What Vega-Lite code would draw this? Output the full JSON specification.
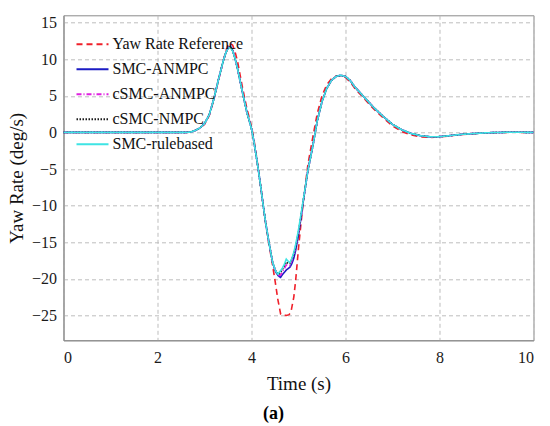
{
  "$schema": "https://vega.github.io/schema/vega-lite/v6.json",
  "width": 470,
  "height": 325,
  "autosize": {"type": "none"},
  "padding": {"left": 63.5, "top": 15.3, "right": 16.5, "bottom": 86},
  "title": {"text": "(a)", "orient": "bottom", "anchor": "middle", "frame": "group", "dx": -25, "offset": 12, "fontSize": 18, "fontWeight": "bold", "font": "Liberation Serif", "color": "#000"},
  "data": {
    "values": [
      {"s": "Yaw Rate Reference", "t": 0, "v": 0}, {"s": "Yaw Rate Reference", "t": 2.5, "v": 0}, {"s": "Yaw Rate Reference", "t": 2.6, "v": 0},
      {"s": "Yaw Rate Reference", "t": 2.7, "v": 0.05}, {"s": "Yaw Rate Reference", "t": 2.8, "v": 0.25}, {"s": "Yaw Rate Reference", "t": 2.9, "v": 0.6},
      {"s": "Yaw Rate Reference", "t": 3.0, "v": 1.1}, {"s": "Yaw Rate Reference", "t": 3.1, "v": 2.3}, {"s": "Yaw Rate Reference", "t": 3.2, "v": 4.5},
      {"s": "Yaw Rate Reference", "t": 3.3, "v": 7.2}, {"s": "Yaw Rate Reference", "t": 3.4, "v": 9.8}, {"s": "Yaw Rate Reference", "t": 3.45, "v": 11.0},
      {"s": "Yaw Rate Reference", "t": 3.5, "v": 11.9}, {"s": "Yaw Rate Reference", "t": 3.55, "v": 12.2}, {"s": "Yaw Rate Reference", "t": 3.6, "v": 11.9},
      {"s": "Yaw Rate Reference", "t": 3.65, "v": 11.0}, {"s": "Yaw Rate Reference", "t": 3.7, "v": 9.8}, {"s": "Yaw Rate Reference", "t": 3.8, "v": 6.4},
      {"s": "Yaw Rate Reference", "t": 3.9, "v": 3.3}, {"s": "Yaw Rate Reference", "t": 4.0, "v": 0.8}, {"s": "Yaw Rate Reference", "t": 4.05, "v": -0.9},
      {"s": "Yaw Rate Reference", "t": 4.1, "v": -3.0}, {"s": "Yaw Rate Reference", "t": 4.15, "v": -5.2}, {"s": "Yaw Rate Reference", "t": 4.2, "v": -7.6},
      {"s": "Yaw Rate Reference", "t": 4.25, "v": -10}, {"s": "Yaw Rate Reference", "t": 4.3, "v": -12.4}, {"s": "Yaw Rate Reference", "t": 4.37, "v": -15.2},
      {"s": "Yaw Rate Reference", "t": 4.45, "v": -18.2}, {"s": "Yaw Rate Reference", "t": 4.5, "v": -20.2}, {"s": "Yaw Rate Reference", "t": 4.56, "v": -22.8},
      {"s": "Yaw Rate Reference", "t": 4.62, "v": -24.8}, {"s": "Yaw Rate Reference", "t": 4.66, "v": -25}, {"s": "Yaw Rate Reference", "t": 4.74, "v": -25},
      {"s": "Yaw Rate Reference", "t": 4.8, "v": -24.9}, {"s": "Yaw Rate Reference", "t": 4.84, "v": -24.5}, {"s": "Yaw Rate Reference", "t": 4.9, "v": -22.5},
      {"s": "Yaw Rate Reference", "t": 4.94, "v": -20.2}, {"s": "Yaw Rate Reference", "t": 5.0, "v": -15.8}, {"s": "Yaw Rate Reference", "t": 5.05, "v": -12.6},
      {"s": "Yaw Rate Reference", "t": 5.1, "v": -9.6}, {"s": "Yaw Rate Reference", "t": 5.2, "v": -4.4}, {"s": "Yaw Rate Reference", "t": 5.3, "v": -0.8},
      {"s": "Yaw Rate Reference", "t": 5.4, "v": 2.6}, {"s": "Yaw Rate Reference", "t": 5.5, "v": 5.0}, {"s": "Yaw Rate Reference", "t": 5.6, "v": 6.5},
      {"s": "Yaw Rate Reference", "t": 5.7, "v": 7.3}, {"s": "Yaw Rate Reference", "t": 5.8, "v": 7.7}, {"s": "Yaw Rate Reference", "t": 5.9, "v": 7.75},
      {"s": "Yaw Rate Reference", "t": 6.0, "v": 7.5}, {"s": "Yaw Rate Reference", "t": 6.1, "v": 6.9}, {"s": "Yaw Rate Reference", "t": 6.2, "v": 6.0},
      {"s": "Yaw Rate Reference", "t": 6.4, "v": 4.6}, {"s": "Yaw Rate Reference", "t": 6.6, "v": 3.2}, {"s": "Yaw Rate Reference", "t": 6.8, "v": 2.0},
      {"s": "Yaw Rate Reference", "t": 7.0, "v": 0.9}, {"s": "Yaw Rate Reference", "t": 7.2, "v": 0.1}, {"s": "Yaw Rate Reference", "t": 7.4, "v": -0.35},
      {"s": "Yaw Rate Reference", "t": 7.6, "v": -0.6}, {"s": "Yaw Rate Reference", "t": 7.8, "v": -0.68}, {"s": "Yaw Rate Reference", "t": 8.0, "v": -0.62},
      {"s": "Yaw Rate Reference", "t": 8.2, "v": -0.48}, {"s": "Yaw Rate Reference", "t": 8.5, "v": -0.28}, {"s": "Yaw Rate Reference", "t": 9.0, "v": -0.07},
      {"s": "Yaw Rate Reference", "t": 9.5, "v": 0.02}, {"s": "Yaw Rate Reference", "t": 10, "v": 0},

      {"s": "SMC-ANMPC", "t": 0, "v": 0}, {"s": "SMC-ANMPC", "t": 2.5, "v": 0}, {"s": "SMC-ANMPC", "t": 2.6, "v": 0},
      {"s": "SMC-ANMPC", "t": 2.7, "v": 0.05}, {"s": "SMC-ANMPC", "t": 2.8, "v": 0.25}, {"s": "SMC-ANMPC", "t": 2.9, "v": 0.6},
      {"s": "SMC-ANMPC", "t": 3.0, "v": 1.2}, {"s": "SMC-ANMPC", "t": 3.1, "v": 2.4}, {"s": "SMC-ANMPC", "t": 3.2, "v": 4.6},
      {"s": "SMC-ANMPC", "t": 3.3, "v": 7.3}, {"s": "SMC-ANMPC", "t": 3.4, "v": 9.8}, {"s": "SMC-ANMPC", "t": 3.45, "v": 10.8},
      {"s": "SMC-ANMPC", "t": 3.5, "v": 11.6}, {"s": "SMC-ANMPC", "t": 3.55, "v": 11.75}, {"s": "SMC-ANMPC", "t": 3.6, "v": 11.2},
      {"s": "SMC-ANMPC", "t": 3.65, "v": 10.1}, {"s": "SMC-ANMPC", "t": 3.7, "v": 8.8}, {"s": "SMC-ANMPC", "t": 3.8, "v": 5.7},
      {"s": "SMC-ANMPC", "t": 3.9, "v": 2.8}, {"s": "SMC-ANMPC", "t": 4.0, "v": 0.5}, {"s": "SMC-ANMPC", "t": 4.05, "v": -1.2},
      {"s": "SMC-ANMPC", "t": 4.1, "v": -3.2}, {"s": "SMC-ANMPC", "t": 4.15, "v": -5.3}, {"s": "SMC-ANMPC", "t": 4.2, "v": -7.6},
      {"s": "SMC-ANMPC", "t": 4.25, "v": -10}, {"s": "SMC-ANMPC", "t": 4.3, "v": -12.3}, {"s": "SMC-ANMPC", "t": 4.37, "v": -15},
      {"s": "SMC-ANMPC", "t": 4.45, "v": -17.8}, {"s": "SMC-ANMPC", "t": 4.5, "v": -18.8}, {"s": "SMC-ANMPC", "t": 4.52, "v": -19.1},
      {"s": "SMC-ANMPC", "t": 4.56, "v": -19.5}, {"s": "SMC-ANMPC", "t": 4.58, "v": -19.65}, {"s": "SMC-ANMPC", "t": 4.62, "v": -19.8},
      {"s": "SMC-ANMPC", "t": 4.66, "v": -19.4}, {"s": "SMC-ANMPC", "t": 4.7, "v": -19.1}, {"s": "SMC-ANMPC", "t": 4.74, "v": -18.8},
      {"s": "SMC-ANMPC", "t": 4.78, "v": -18.6}, {"s": "SMC-ANMPC", "t": 4.82, "v": -18.4}, {"s": "SMC-ANMPC", "t": 4.86, "v": -17.9},
      {"s": "SMC-ANMPC", "t": 4.9, "v": -17.2}, {"s": "SMC-ANMPC", "t": 4.94, "v": -16.1}, {"s": "SMC-ANMPC", "t": 5.0, "v": -14.0},
      {"s": "SMC-ANMPC", "t": 5.05, "v": -11.8}, {"s": "SMC-ANMPC", "t": 5.1, "v": -9.5}, {"s": "SMC-ANMPC", "t": 5.2, "v": -5.2},
      {"s": "SMC-ANMPC", "t": 5.3, "v": -2.0}, {"s": "SMC-ANMPC", "t": 5.4, "v": 1.6}, {"s": "SMC-ANMPC", "t": 5.5, "v": 4.2},
      {"s": "SMC-ANMPC", "t": 5.6, "v": 6.0}, {"s": "SMC-ANMPC", "t": 5.7, "v": 7.1}, {"s": "SMC-ANMPC", "t": 5.8, "v": 7.65},
      {"s": "SMC-ANMPC", "t": 5.9, "v": 7.8}, {"s": "SMC-ANMPC", "t": 6.0, "v": 7.65}, {"s": "SMC-ANMPC", "t": 6.1, "v": 7.1},
      {"s": "SMC-ANMPC", "t": 6.2, "v": 6.2}, {"s": "SMC-ANMPC", "t": 6.4, "v": 4.8}, {"s": "SMC-ANMPC", "t": 6.6, "v": 3.4},
      {"s": "SMC-ANMPC", "t": 6.8, "v": 2.2}, {"s": "SMC-ANMPC", "t": 7.0, "v": 1.1}, {"s": "SMC-ANMPC", "t": 7.2, "v": 0.35},
      {"s": "SMC-ANMPC", "t": 7.4, "v": -0.15}, {"s": "SMC-ANMPC", "t": 7.6, "v": -0.45}, {"s": "SMC-ANMPC", "t": 7.8, "v": -0.6},
      {"s": "SMC-ANMPC", "t": 8.0, "v": -0.58}, {"s": "SMC-ANMPC", "t": 8.2, "v": -0.45}, {"s": "SMC-ANMPC", "t": 8.5, "v": -0.25},
      {"s": "SMC-ANMPC", "t": 9.0, "v": -0.05}, {"s": "SMC-ANMPC", "t": 9.5, "v": 0.03}, {"s": "SMC-ANMPC", "t": 10, "v": 0},

      {"s": "cSMC-ANMPC", "t": 0, "v": 0}, {"s": "cSMC-ANMPC", "t": 2.5, "v": 0}, {"s": "cSMC-ANMPC", "t": 2.6, "v": 0},
      {"s": "cSMC-ANMPC", "t": 2.7, "v": 0.05}, {"s": "cSMC-ANMPC", "t": 2.8, "v": 0.25}, {"s": "cSMC-ANMPC", "t": 2.9, "v": 0.6},
      {"s": "cSMC-ANMPC", "t": 3.0, "v": 1.2}, {"s": "cSMC-ANMPC", "t": 3.1, "v": 2.4}, {"s": "cSMC-ANMPC", "t": 3.2, "v": 4.6},
      {"s": "cSMC-ANMPC", "t": 3.3, "v": 7.3}, {"s": "cSMC-ANMPC", "t": 3.4, "v": 9.8}, {"s": "cSMC-ANMPC", "t": 3.45, "v": 10.8},
      {"s": "cSMC-ANMPC", "t": 3.5, "v": 11.55}, {"s": "cSMC-ANMPC", "t": 3.55, "v": 11.65}, {"s": "cSMC-ANMPC", "t": 3.6, "v": 11.2},
      {"s": "cSMC-ANMPC", "t": 3.65, "v": 10.1}, {"s": "cSMC-ANMPC", "t": 3.7, "v": 8.8}, {"s": "cSMC-ANMPC", "t": 3.8, "v": 5.7},
      {"s": "cSMC-ANMPC", "t": 3.9, "v": 2.8}, {"s": "cSMC-ANMPC", "t": 4.0, "v": 0.5}, {"s": "cSMC-ANMPC", "t": 4.05, "v": -1.2},
      {"s": "cSMC-ANMPC", "t": 4.1, "v": -3.2}, {"s": "cSMC-ANMPC", "t": 4.15, "v": -5.3}, {"s": "cSMC-ANMPC", "t": 4.2, "v": -7.6},
      {"s": "cSMC-ANMPC", "t": 4.25, "v": -10}, {"s": "cSMC-ANMPC", "t": 4.3, "v": -12.3}, {"s": "cSMC-ANMPC", "t": 4.37, "v": -15},
      {"s": "cSMC-ANMPC", "t": 4.45, "v": -17.8}, {"s": "cSMC-ANMPC", "t": 4.5, "v": -18.7}, {"s": "cSMC-ANMPC", "t": 4.52, "v": -19.0},
      {"s": "cSMC-ANMPC", "t": 4.56, "v": -19.4}, {"s": "cSMC-ANMPC", "t": 4.58, "v": -19.55}, {"s": "cSMC-ANMPC", "t": 4.62, "v": -19.5},
      {"s": "cSMC-ANMPC", "t": 4.66, "v": -19.0}, {"s": "cSMC-ANMPC", "t": 4.7, "v": -18.6}, {"s": "cSMC-ANMPC", "t": 4.74, "v": -18.1},
      {"s": "cSMC-ANMPC", "t": 4.78, "v": -18.2}, {"s": "cSMC-ANMPC", "t": 4.82, "v": -18.2}, {"s": "cSMC-ANMPC", "t": 4.86, "v": -17.5},
      {"s": "cSMC-ANMPC", "t": 4.9, "v": -16.7}, {"s": "cSMC-ANMPC", "t": 4.94, "v": -15.6}, {"s": "cSMC-ANMPC", "t": 5.0, "v": -13.7},
      {"s": "cSMC-ANMPC", "t": 5.05, "v": -11.6}, {"s": "cSMC-ANMPC", "t": 5.1, "v": -9.4}, {"s": "cSMC-ANMPC", "t": 5.2, "v": -5.2},
      {"s": "cSMC-ANMPC", "t": 5.3, "v": -2.0}, {"s": "cSMC-ANMPC", "t": 5.4, "v": 1.6}, {"s": "cSMC-ANMPC", "t": 5.5, "v": 4.2},
      {"s": "cSMC-ANMPC", "t": 5.6, "v": 6.0}, {"s": "cSMC-ANMPC", "t": 5.7, "v": 7.1}, {"s": "cSMC-ANMPC", "t": 5.8, "v": 7.65},
      {"s": "cSMC-ANMPC", "t": 5.9, "v": 7.8}, {"s": "cSMC-ANMPC", "t": 6.0, "v": 7.65}, {"s": "cSMC-ANMPC", "t": 6.1, "v": 7.1},
      {"s": "cSMC-ANMPC", "t": 6.2, "v": 6.2}, {"s": "cSMC-ANMPC", "t": 6.4, "v": 4.8}, {"s": "cSMC-ANMPC", "t": 6.6, "v": 3.4},
      {"s": "cSMC-ANMPC", "t": 6.8, "v": 2.2}, {"s": "cSMC-ANMPC", "t": 7.0, "v": 1.1}, {"s": "cSMC-ANMPC", "t": 7.2, "v": 0.35},
      {"s": "cSMC-ANMPC", "t": 7.4, "v": -0.15}, {"s": "cSMC-ANMPC", "t": 7.6, "v": -0.45}, {"s": "cSMC-ANMPC", "t": 7.8, "v": -0.6},
      {"s": "cSMC-ANMPC", "t": 8.0, "v": -0.58}, {"s": "cSMC-ANMPC", "t": 8.2, "v": -0.45}, {"s": "cSMC-ANMPC", "t": 8.5, "v": -0.25},
      {"s": "cSMC-ANMPC", "t": 9.0, "v": -0.05}, {"s": "cSMC-ANMPC", "t": 9.5, "v": 0.03}, {"s": "cSMC-ANMPC", "t": 10, "v": 0},

      {"s": "cSMC-NMPC", "t": 0, "v": 0}, {"s": "cSMC-NMPC", "t": 2.5, "v": 0}, {"s": "cSMC-NMPC", "t": 2.6, "v": 0},
      {"s": "cSMC-NMPC", "t": 2.7, "v": 0.05}, {"s": "cSMC-NMPC", "t": 2.8, "v": 0.25}, {"s": "cSMC-NMPC", "t": 2.9, "v": 0.6},
      {"s": "cSMC-NMPC", "t": 3.0, "v": 1.2}, {"s": "cSMC-NMPC", "t": 3.1, "v": 2.4}, {"s": "cSMC-NMPC", "t": 3.2, "v": 4.6},
      {"s": "cSMC-NMPC", "t": 3.3, "v": 7.3}, {"s": "cSMC-NMPC", "t": 3.4, "v": 9.8}, {"s": "cSMC-NMPC", "t": 3.45, "v": 10.8},
      {"s": "cSMC-NMPC", "t": 3.5, "v": 11.5}, {"s": "cSMC-NMPC", "t": 3.55, "v": 11.6}, {"s": "cSMC-NMPC", "t": 3.6, "v": 11.15},
      {"s": "cSMC-NMPC", "t": 3.65, "v": 10.1}, {"s": "cSMC-NMPC", "t": 3.7, "v": 8.8}, {"s": "cSMC-NMPC", "t": 3.8, "v": 5.7},
      {"s": "cSMC-NMPC", "t": 3.9, "v": 2.8}, {"s": "cSMC-NMPC", "t": 4.0, "v": 0.5}, {"s": "cSMC-NMPC", "t": 4.05, "v": -1.2},
      {"s": "cSMC-NMPC", "t": 4.1, "v": -3.2}, {"s": "cSMC-NMPC", "t": 4.15, "v": -5.3}, {"s": "cSMC-NMPC", "t": 4.2, "v": -7.6},
      {"s": "cSMC-NMPC", "t": 4.25, "v": -10}, {"s": "cSMC-NMPC", "t": 4.3, "v": -12.3}, {"s": "cSMC-NMPC", "t": 4.37, "v": -15},
      {"s": "cSMC-NMPC", "t": 4.45, "v": -17.8}, {"s": "cSMC-NMPC", "t": 4.5, "v": -18.7}, {"s": "cSMC-NMPC", "t": 4.52, "v": -19.0},
      {"s": "cSMC-NMPC", "t": 4.56, "v": -19.3}, {"s": "cSMC-NMPC", "t": 4.58, "v": -19.4}, {"s": "cSMC-NMPC", "t": 4.62, "v": -19.1},
      {"s": "cSMC-NMPC", "t": 4.66, "v": -18.7}, {"s": "cSMC-NMPC", "t": 4.7, "v": -18.2}, {"s": "cSMC-NMPC", "t": 4.74, "v": -17.7},
      {"s": "cSMC-NMPC", "t": 4.78, "v": -17.9}, {"s": "cSMC-NMPC", "t": 4.82, "v": -17.9}, {"s": "cSMC-NMPC", "t": 4.86, "v": -17.3},
      {"s": "cSMC-NMPC", "t": 4.9, "v": -16.6}, {"s": "cSMC-NMPC", "t": 4.94, "v": -15.6}, {"s": "cSMC-NMPC", "t": 5.0, "v": -13.6},
      {"s": "cSMC-NMPC", "t": 5.05, "v": -11.5}, {"s": "cSMC-NMPC", "t": 5.1, "v": -9.4}, {"s": "cSMC-NMPC", "t": 5.2, "v": -5.2},
      {"s": "cSMC-NMPC", "t": 5.3, "v": -2.0}, {"s": "cSMC-NMPC", "t": 5.4, "v": 1.6}, {"s": "cSMC-NMPC", "t": 5.5, "v": 4.2},
      {"s": "cSMC-NMPC", "t": 5.6, "v": 6.0}, {"s": "cSMC-NMPC", "t": 5.7, "v": 7.1}, {"s": "cSMC-NMPC", "t": 5.8, "v": 7.65},
      {"s": "cSMC-NMPC", "t": 5.9, "v": 7.8}, {"s": "cSMC-NMPC", "t": 6.0, "v": 7.65}, {"s": "cSMC-NMPC", "t": 6.1, "v": 7.1},
      {"s": "cSMC-NMPC", "t": 6.2, "v": 6.2}, {"s": "cSMC-NMPC", "t": 6.4, "v": 4.8}, {"s": "cSMC-NMPC", "t": 6.6, "v": 3.4},
      {"s": "cSMC-NMPC", "t": 6.8, "v": 2.2}, {"s": "cSMC-NMPC", "t": 7.0, "v": 1.1}, {"s": "cSMC-NMPC", "t": 7.2, "v": 0.35},
      {"s": "cSMC-NMPC", "t": 7.4, "v": -0.15}, {"s": "cSMC-NMPC", "t": 7.6, "v": -0.45}, {"s": "cSMC-NMPC", "t": 7.8, "v": -0.6},
      {"s": "cSMC-NMPC", "t": 8.0, "v": -0.58}, {"s": "cSMC-NMPC", "t": 8.2, "v": -0.45}, {"s": "cSMC-NMPC", "t": 8.5, "v": -0.25},
      {"s": "cSMC-NMPC", "t": 9.0, "v": -0.05}, {"s": "cSMC-NMPC", "t": 9.5, "v": 0.03}, {"s": "cSMC-NMPC", "t": 10, "v": 0},

      {"s": "SMC-rulebased", "t": 0, "v": 0}, {"s": "SMC-rulebased", "t": 2.5, "v": 0}, {"s": "SMC-rulebased", "t": 2.6, "v": 0},
      {"s": "SMC-rulebased", "t": 2.7, "v": 0.05}, {"s": "SMC-rulebased", "t": 2.8, "v": 0.25}, {"s": "SMC-rulebased", "t": 2.9, "v": 0.6},
      {"s": "SMC-rulebased", "t": 3.0, "v": 1.2}, {"s": "SMC-rulebased", "t": 3.1, "v": 2.4}, {"s": "SMC-rulebased", "t": 3.2, "v": 4.6},
      {"s": "SMC-rulebased", "t": 3.3, "v": 7.3}, {"s": "SMC-rulebased", "t": 3.4, "v": 9.8}, {"s": "SMC-rulebased", "t": 3.45, "v": 10.8},
      {"s": "SMC-rulebased", "t": 3.5, "v": 11.5}, {"s": "SMC-rulebased", "t": 3.55, "v": 11.6}, {"s": "SMC-rulebased", "t": 3.6, "v": 11.1},
      {"s": "SMC-rulebased", "t": 3.65, "v": 10.1}, {"s": "SMC-rulebased", "t": 3.7, "v": 8.8}, {"s": "SMC-rulebased", "t": 3.8, "v": 5.7},
      {"s": "SMC-rulebased", "t": 3.9, "v": 2.8}, {"s": "SMC-rulebased", "t": 4.0, "v": 0.5}, {"s": "SMC-rulebased", "t": 4.05, "v": -1.2},
      {"s": "SMC-rulebased", "t": 4.1, "v": -3.2}, {"s": "SMC-rulebased", "t": 4.15, "v": -5.3}, {"s": "SMC-rulebased", "t": 4.2, "v": -7.6},
      {"s": "SMC-rulebased", "t": 4.25, "v": -10}, {"s": "SMC-rulebased", "t": 4.3, "v": -12.3}, {"s": "SMC-rulebased", "t": 4.37, "v": -15},
      {"s": "SMC-rulebased", "t": 4.45, "v": -17.8}, {"s": "SMC-rulebased", "t": 4.5, "v": -18.7}, {"s": "SMC-rulebased", "t": 4.52, "v": -19.0},
      {"s": "SMC-rulebased", "t": 4.56, "v": -19.35}, {"s": "SMC-rulebased", "t": 4.58, "v": -19.2}, {"s": "SMC-rulebased", "t": 4.62, "v": -18.9},
      {"s": "SMC-rulebased", "t": 4.66, "v": -18.5}, {"s": "SMC-rulebased", "t": 4.7, "v": -18.0}, {"s": "SMC-rulebased", "t": 4.74, "v": -17.3},
      {"s": "SMC-rulebased", "t": 4.78, "v": -17.6}, {"s": "SMC-rulebased", "t": 4.82, "v": -17.8}, {"s": "SMC-rulebased", "t": 4.86, "v": -17.2},
      {"s": "SMC-rulebased", "t": 4.9, "v": -16.4}, {"s": "SMC-rulebased", "t": 4.94, "v": -15.3}, {"s": "SMC-rulebased", "t": 5.0, "v": -13.3},
      {"s": "SMC-rulebased", "t": 5.05, "v": -11.3}, {"s": "SMC-rulebased", "t": 5.1, "v": -9.3}, {"s": "SMC-rulebased", "t": 5.2, "v": -5.2},
      {"s": "SMC-rulebased", "t": 5.3, "v": -2.0}, {"s": "SMC-rulebased", "t": 5.4, "v": 1.6}, {"s": "SMC-rulebased", "t": 5.5, "v": 4.2},
      {"s": "SMC-rulebased", "t": 5.6, "v": 6.0}, {"s": "SMC-rulebased", "t": 5.7, "v": 7.1}, {"s": "SMC-rulebased", "t": 5.8, "v": 7.65},
      {"s": "SMC-rulebased", "t": 5.9, "v": 7.8}, {"s": "SMC-rulebased", "t": 6.0, "v": 7.65}, {"s": "SMC-rulebased", "t": 6.1, "v": 7.1},
      {"s": "SMC-rulebased", "t": 6.2, "v": 6.2}, {"s": "SMC-rulebased", "t": 6.4, "v": 4.8}, {"s": "SMC-rulebased", "t": 6.6, "v": 3.4},
      {"s": "SMC-rulebased", "t": 6.8, "v": 2.2}, {"s": "SMC-rulebased", "t": 7.0, "v": 1.1}, {"s": "SMC-rulebased", "t": 7.2, "v": 0.35},
      {"s": "SMC-rulebased", "t": 7.4, "v": -0.15}, {"s": "SMC-rulebased", "t": 7.6, "v": -0.45}, {"s": "SMC-rulebased", "t": 7.8, "v": -0.6},
      {"s": "SMC-rulebased", "t": 8.0, "v": -0.58}, {"s": "SMC-rulebased", "t": 8.2, "v": -0.45}, {"s": "SMC-rulebased", "t": 8.5, "v": -0.25},
      {"s": "SMC-rulebased", "t": 9.0, "v": -0.05}, {"s": "SMC-rulebased", "t": 9.5, "v": 0.03}, {"s": "SMC-rulebased", "t": 10, "v": 0}
    ]
  },
  "mark": {"type": "line", "strokeWidth": 1.6},
  "encoding": {
    "x": {
      "field": "t", "type": "quantitative", "title": "Time (s)",
      "scale": {"domain": [0, 10], "nice": false},
      "axis": {
        "values": [0, 2, 4, 6, 8, 10], "labelPadding": 9, "titlePadding": 9,
        "encode": {"labels": {"update": {"font": {"value": "Liberation Serif"}}}}
      }
    },
    "y": {
      "field": "v", "type": "quantitative", "title": "Yaw Rate (deg/s)",
      "scale": {"domain": [-28.4, 16], "nice": false, "zero": false},
      "axis": {
        "values": [-25, -20, -15, -10, -5, 0, 5, 10, 15], "labelPadding": 7, "titlePadding": 5,
        "encode": {"labels": {"update": {"font": {"value": "Liberation Serif"}}}}
      }
    },
    "color": {
      "field": "s", "type": "nominal", "title": null,
      "scale": {
        "domain": ["Yaw Rate Reference", "SMC-ANMPC", "cSMC-ANMPC", "cSMC-NMPC", "SMC-rulebased"],
        "range": ["#f0202a", "#1c1cc4", "#e020e0", "#1a1a1a", "#3ee4e4"]
      }
    },
    "strokeDash": {
      "field": "s", "type": "nominal", "title": null,
      "scale": {
        "domain": ["Yaw Rate Reference", "SMC-ANMPC", "cSMC-ANMPC", "cSMC-NMPC", "SMC-rulebased"],
        "range": [[6, 4], [1, 0], [5, 2, 1, 2], [1.5, 1.5], [1, 0]]
      }
    }
  },
  "config": {
    "font": "Liberation Serif",
    "view": {"stroke": "#8a8a8a", "strokeWidth": 1},
    "axis": {
      "domainColor": "#8a8a8a",
      "ticks": false,
      "grid": true,
      "gridColor": "#bdbdbd",
      "gridDash": [4, 3],
      "gridWidth": 1,
      "labelFont": "Liberation Serif",
      "labelFontSize": 16,
      "labelColor": "#1a1a1a",
      "titleFont": "Liberation Serif",
      "titleFontSize": 19,
      "titleFontWeight": "normal",
      "titleColor": "#111"
    },
    "legend": {
      "orient": "none",
      "legendX": 12,
      "legendY": 12,
      "symbolType": "stroke",
      "symbolSize": 1024,
      "symbolStrokeWidth": 2,
      "labelFont": "Liberation Serif",
      "labelFontSize": 16,
      "labelColor": "#111",
      "labelOffset": 3,
      "rowPadding": -13,
      "padding": 0
    }
  }
}
